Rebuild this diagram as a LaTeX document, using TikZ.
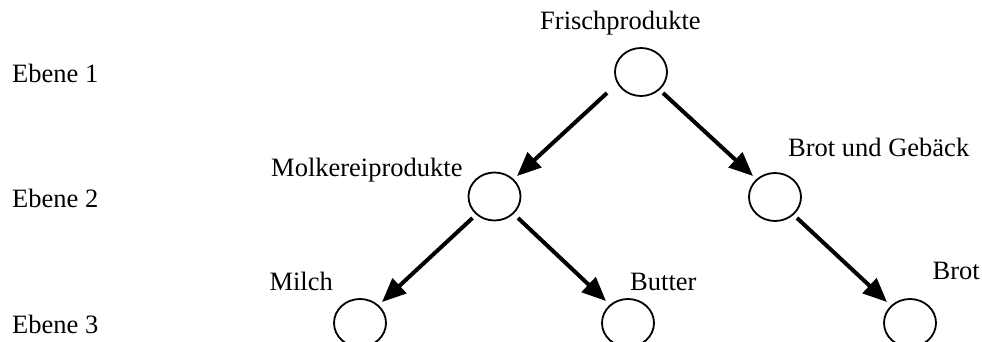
\documentclass[tikz,border=0pt]{standalone}
\usepackage{fontspec}
\setmainfont{Liberation Serif}
\usetikzlibrary{arrows.meta,calc,shapes.geometric}
\begin{document}
\begin{tikzpicture}[x=1pt,y=-1pt,
  knot/.style={ellipse,draw,line width=1.8pt,minimum width=52pt,minimum height=48pt,inner sep=0pt},
  lbl/.style={inner sep=0pt,font=\fontsize{26.5}{30}\selectfont},
  conn/.style={line width=4pt,-{Triangle[length=24pt,width=20pt]}}]
\useasboundingbox (0,0) rectangle (982,342);
\clip (0,0) rectangle (982,342);
\node[knot] (f) at (641,72) {};
\node[knot] (m) at (494.5,196.5) {};
\node[knot] (g) at (775,197) {};
\node[knot] (mi) at (360,323) {};
\node[knot] (bu) at (628,323) {};
\node[knot] (br) at (910,323) {};
\node[lbl,anchor=base west] (tf) at (540,30) {Frischprodukte};
\node[lbl,anchor=base west] (tm) at (271,176) {Molkereiprodukte};
\node[lbl,anchor=base west] (tg) at (788,156) {Brot und Gebäck};
\node[lbl,anchor=base east] (tmi) at (333,290) {Milch};
\node[lbl,anchor=base west] (tbu) at (630,290) {Butter};
\node[lbl,anchor=base east] (tbr) at (980,279) {Brot};
\node[lbl,anchor=base west] (e1) at (12,83) {Ebene 1};
\node[lbl,anchor=base west] (e2) at (12,207) {Ebene 2};
\node[lbl,anchor=base west] (e3) at (12,333) {Ebene 3};
\draw[conn] ($(f.center)+(-34,21)$) -- ($(m.center)+(22.5,-20.5)$);
\draw[conn] ($(f.center)+(22,21)$) -- ($(g.center)+(-22,-21)$);
\draw[conn] ($(m.center)+(-22,21.5)$) -- ($(mi.center)+(22,-21)$);
\draw[conn] ($(m.center)+(23.5,21.5)$) -- ($(bu.center)+(-22,-22)$);
\draw[conn] ($(g.center)+(22,21)$) -- ($(br.center)+(-23,-21)$);
\end{tikzpicture}
\end{document}
